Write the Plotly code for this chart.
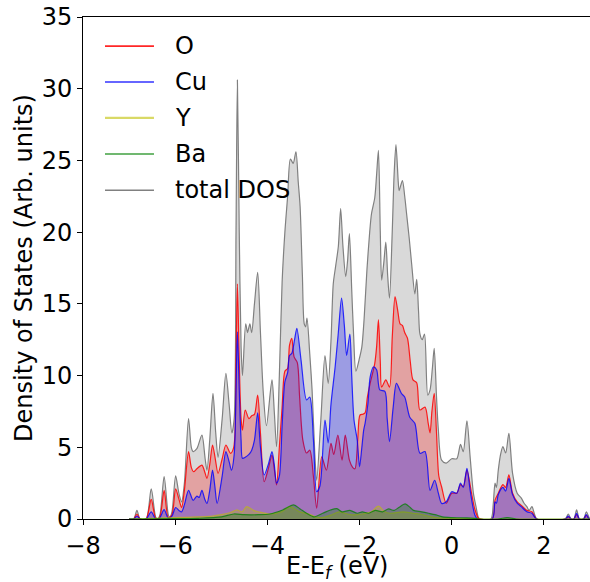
import plotly.graph_objects as go

# ---------------- data: (energy eV, DOS) ----------------
total_pts = [
    (-7.0, 0), (-6.90, 0), (-6.83, 0.6), (-6.76, 0), (-6.63, 0), (-6.52, 2.1), (-6.42, 0.1), (-6.38, 0),
    (-6.33, 0.3), (-6.24, 2.95), (-6.15, 0.3), (-6.12, 0.1), (-6.07, 0.5), (-5.99, 3.0), (-5.92, 1.8),
    (-5.86, 1.2), (-5.80, 2.5), (-5.71, 7.0), (-5.65, 5.0), (-5.61, 4.7), (-5.53, 4.9), (-5.42, 5.85),
    (-5.35, 4.2), (-5.31, 3.4), (-5.25, 5.5), (-5.18, 8.76), (-5.12, 6.0), (-5.07, 4.3), (-4.98, 7.0),
    (-4.90, 10.15), (-4.83, 8.0), (-4.77, 6.0), (-4.72, 7.0), (-4.68, 20.0), (-4.65, 30.6), (-4.61, 20.0),
    (-4.57, 12.0), (-4.54, 10.0), (-4.47, 13.6), (-4.43, 13.0), (-4.38, 13.6), (-4.34, 13.0), (-4.28, 15.0),
    (-4.21, 17.2), (-4.15, 13.0), (-4.09, 8.87), (-4.02, 6.5), (-3.90, 9.7), (-3.85, 7.5), (-3.80, 5.04),
    (-3.74, 10.0), (-3.68, 16.5), (-3.62, 20.0), (-3.56, 22.5), (-3.50, 25.1), (-3.44, 24.8), (-3.38, 25.6),
    (-3.33, 23.5), (-3.29, 21.8), (-3.24, 17.0), (-3.20, 13.6), (-3.17, 13.4), (-3.14, 14.0), (-3.08, 11.5),
    (-3.03, 9.0), (-2.97, 4.5), (-2.93, 2.7), (-2.84, 6.9), (-2.75, 11.4), (-2.68, 9.45), (-2.62, 12.4),
    (-2.57, 16.4), (-2.52, 17.6), (-2.46, 19.0), (-2.41, 21.65), (-2.36, 19.0), (-2.30, 16.9), (-2.26, 18.0),
    (-2.22, 19.9), (-2.17, 16.0), (-2.13, 12.9), (-2.08, 10.3), (-2.01, 11.1), (-1.95, 12.0), (-1.90, 14.0),
    (-1.84, 17.35), (-1.78, 20.0), (-1.74, 21.3), (-1.67, 22.4), (-1.63, 24.0), (-1.59, 25.7), (-1.55, 20.0),
    (-1.52, 16.65), (-1.47, 18.0), (-1.43, 19.3), (-1.39, 17.0), (-1.35, 15.4), (-1.29, 20.1), (-1.25, 24.0),
    (-1.21, 26.1), (-1.16, 23.5), (-1.14, 22.9), (-1.07, 23.6), (-1.02, 22.5), (-0.98, 21.3), (-0.92, 19.5),
    (-0.87, 17.8), (-0.80, 15.7), (-0.76, 16.7), (-0.72, 14.5), (-0.69, 12.9), (-0.64, 12.5), (-0.59, 12.9),
    (-0.52, 8.64), (-0.47, 9.0), (-0.42, 10.5), (-0.38, 11.9), (-0.33, 8.5), (-0.29, 6.2), (-0.22, 4.1),
    (-0.12, 3.9), (0.0, 4.2), (0.11, 4.2), (0.19, 5.2), (0.25, 4.7), (0.33, 6.85), (0.40, 4.3), (0.47, 1.8),
    (0.53, 0.8), (0.58, 0.1), (0.62, 0), (0.85, 0), (0.90, 1.0), (0.94, 2.5), (0.97, 2.2), (1.01, 3.4),
    (1.06, 4.5), (1.11, 5.04), (1.17, 4.6), (1.24, 5.97), (1.32, 3.18), (1.42, 1.8), (1.51, 1.45),
    (1.57, 1.1), (1.63, 0.86), (1.68, 0.6), (1.74, 0.86), (1.80, 0.3), (1.85, 0), (2.46, 0), (2.53, 0.35),
    (2.59, 0), (2.65, 0), (2.71, 0.63), (2.77, 0), (2.86, 0), (2.92, 0.5), (2.98, 0.1), (3.0, 0),
]
O_pts = [
    (-7.0, 0), (-6.90, 0), (-6.83, 0.35), (-6.76, 0), (-6.63, 0), (-6.52, 1.37), (-6.42, 0.05), (-6.34, 0.1),
    (-6.24, 2.0), (-6.15, 0.1), (-6.07, 0.3), (-5.99, 2.1), (-5.92, 1.4), (-5.86, 0.8), (-5.80, 2.0),
    (-5.71, 4.7), (-5.65, 3.6), (-5.60, 3.3), (-5.53, 3.5), (-5.42, 3.76), (-5.36, 3.3), (-5.31, 2.83),
    (-5.25, 3.8), (-5.19, 5.16), (-5.13, 4.2), (-5.07, 3.18), (-4.98, 4.2), (-4.90, 5.16), (-4.80, 4.58),
    (-4.73, 5.0), (-4.68, 11.0), (-4.65, 16.4), (-4.61, 11.0), (-4.57, 7.0), (-4.54, 6.2), (-4.48, 7.6),
    (-4.40, 7.0), (-4.34, 7.2), (-4.28, 7.3), (-4.21, 8.64), (-4.15, 6.0), (-4.07, 2.6), (-3.98, 3.5),
    (-3.90, 4.46), (-3.85, 3.5), (-3.80, 2.37), (-3.74, 5.0), (-3.68, 7.8), (-3.62, 10.3), (-3.56, 10.5),
    (-3.52, 12.1), (-3.47, 12.6), (-3.42, 11.3), (-3.35, 10.9), (-3.30, 8.5), (-3.23, 5.5), (-3.15, 4.6),
    (-3.08, 4.8), (-3.00, 2.95), (-2.93, 0.75), (-2.82, 4.34), (-2.72, 3.4), (-2.62, 5.27), (-2.56, 4.5),
    (-2.47, 5.85), (-2.38, 4.1), (-2.31, 5.85), (-2.22, 4.1), (-2.15, 3.6), (-2.10, 3.5), (-2.04, 5.5),
    (-1.99, 7.25), (-1.93, 7.3), (-1.88, 7.4), (-1.83, 8.5), (-1.77, 9.45), (-1.67, 10.85), (-1.63, 12.0),
    (-1.59, 13.9), (-1.55, 11.0), (-1.52, 9.2), (-1.43, 9.7), (-1.35, 9.2), (-1.29, 12.7), (-1.23, 15.5),
    (-1.17, 14.5), (-1.12, 13.6), (-1.07, 13.5), (-1.02, 13.0), (-0.96, 12.6), (-0.90, 11.0), (-0.84, 9.7),
    (-0.76, 9.5), (-0.69, 7.6), (-0.58, 7.8), (-0.51, 6.67), (-0.47, 6.0), (-0.43, 7.5), (-0.38, 8.76),
    (-0.33, 6.0), (-0.28, 3.0), (-0.22, 2.25), (-0.12, 1.09), (0.0, 1.79), (0.11, 1.8), (0.19, 2.4),
    (0.25, 2.25), (0.33, 3.41), (0.43, 1.8), (0.50, 0.7), (0.58, 0.05), (0.62, 0), (0.88, 0), (0.94, 1.32),
    (1.01, 1.8), (1.11, 2.4), (1.17, 2.2), (1.24, 3.07), (1.32, 1.8), (1.42, 1.2), (1.51, 0.95), (1.63, 0.6),
    (1.74, 0.5), (1.84, 0), (2.46, 0), (2.53, 0.15), (2.59, 0), (2.65, 0), (2.71, 0.3), (2.77, 0), (2.86, 0),
    (2.92, 0.25), (2.98, 0), (3.0, 0),
]
Cu_pts = [
    (-7.0, 0), (-6.90, 0), (-6.83, 0.2), (-6.76, 0), (-6.63, 0), (-6.52, 0.5), (-6.42, 0), (-6.34, 0.05),
    (-6.24, 0.65), (-6.15, 0.05), (-6.07, 0.2), (-5.99, 0.8), (-5.92, 0.6), (-5.86, 0.5), (-5.80, 1.0),
    (-5.71, 2.0), (-5.61, 1.3), (-5.53, 1.6), (-5.48, 1.5), (-5.42, 2.0), (-5.36, 1.4), (-5.31, 1.09),
    (-5.25, 2.0), (-5.19, 3.41), (-5.14, 2.3), (-5.09, 1.09), (-4.98, 3.0), (-4.90, 4.7), (-4.83, 4.0),
    (-4.78, 3.4), (-4.72, 4.5), (-4.68, 9.0), (-4.65, 13.05), (-4.61, 9.0), (-4.57, 5.5), (-4.54, 4.23),
    (-4.48, 4.3), (-4.40, 4.5), (-4.34, 4.8), (-4.28, 5.5), (-4.21, 7.4), (-4.15, 5.0), (-4.07, 3.07),
    (-3.98, 3.8), (-3.90, 4.7), (-3.85, 3.8), (-3.80, 2.5), (-3.74, 3.0), (-3.68, 6.5), (-3.62, 9.57),
    (-3.56, 10.2), (-3.52, 11.4), (-3.47, 11.55), (-3.41, 12.5), (-3.36, 13.3), (-3.27, 11.1), (-3.15, 8.3),
    (-3.08, 8.5), (-3.00, 5.5), (-2.93, 1.9), (-2.86, 2.3), (-2.75, 6.9), (-2.68, 5.3), (-2.62, 8.0),
    (-2.53, 10.6), (-2.46, 13.0), (-2.39, 15.4), (-2.33, 13.5), (-2.28, 11.4), (-2.21, 12.9), (-2.17, 10.0),
    (-2.12, 6.9), (-2.05, 5.5), (-2.00, 3.64), (-1.95, 5.0), (-1.91, 6.2), (-1.88, 6.67), (-1.82, 8.0),
    (-1.77, 9.9), (-1.70, 10.6), (-1.63, 10.4), (-1.56, 9.0), (-1.45, 8.9), (-1.40, 7.0), (-1.35, 5.4),
    (-1.27, 7.8), (-1.20, 9.45), (-1.09, 8.75), (-1.02, 8.5), (-0.91, 7.1), (-0.80, 6.67), (-0.69, 4.58),
    (-0.58, 4.7), (-0.47, 2.0), (-0.37, 2.7), (-0.29, 1.8), (-0.22, 1.09), (-0.12, 1.2), (0.0, 1.9),
    (0.11, 1.8), (0.19, 2.5), (0.25, 2.2), (0.33, 3.53), (0.40, 2.0), (0.50, 0.3), (0.56, 0), (0.88, 0),
    (0.94, 1.2), (0.97, 1.1), (1.01, 1.7), (1.11, 2.2), (1.17, 1.95), (1.24, 2.83), (1.32, 1.7), (1.42, 1.1),
    (1.51, 0.86), (1.63, 0.5), (1.74, 0.4), (1.84, 0), (2.46, 0), (2.53, 0.2), (2.59, 0), (2.65, 0),
    (2.71, 0.4), (2.77, 0), (2.86, 0), (2.92, 0.3), (2.98, 0), (3.0, 0),
]
Y_pts = [
    (-7.0, 0), (-6.5, 0.05), (-6.0, 0.1), (-5.8, 0.12), (-5.5, 0.15), (-5.2, 0.2), (-5.0, 0.3), (-4.8, 0.45),
    (-4.66, 0.63), (-4.55, 0.5), (-4.45, 0.86), (-4.3, 0.6), (-4.19, 0.5), (-3.95, 0.35), (-3.7, 0.5),
    (-3.51, 0.86), (-3.3, 0.5), (-3.10, 0.35), (-2.95, 0.15), (-2.81, 0.1), (-2.6, 0.3), (-2.44, 0.5),
    (-2.2, 0.3), (-1.94, 0.35), (-1.75, 0.5), (-1.59, 0.9), (-1.45, 0.5), (-1.34, 0.4), (-1.05, 0.5),
    (-0.85, 0.4), (-0.69, 0.35), (-0.5, 0.2), (-0.33, 0.1), (0.0, 0.05), (0.5, 0.02), (0.6, 0), (3.0, 0),
]
Ba_pts = [
    (-7.0, 0), (-6.0, 0.02), (-5.5, 0.05), (-5.0, 0.15), (-4.73, 0.35), (-4.5, 0.3), (-4.2, 0.3),
    (-3.95, 0.35), (-3.67, 0.63), (-3.43, 0.98), (-3.29, 0.7), (-3.15, 0.4), (-2.99, 0.15), (-2.8, 0.4),
    (-2.63, 0.63), (-2.49, 0.72), (-2.38, 0.5), (-2.21, 0.6), (-2.05, 0.4), (-1.94, 0.5), (-1.80, 0.4),
    (-1.66, 0.6), (-1.5, 0.5), (-1.37, 0.7), (-1.25, 0.6), (-1.15, 0.8), (-1.01, 1.05), (-0.9, 0.8),
    (-0.83, 0.6), (-0.65, 0.5), (-0.5, 0.4), (-0.36, 0.3), (-0.2, 0.15), (0.0, 0.1), (0.3, 0.08),
    (0.5, 0.05), (0.6, 0), (1.0, 0), (1.2, 0.1), (1.4, 0), (3.0, 0),
]

legend_labels = ["O", "Cu", "Y", "Ba", "total DOS"]
x_ticks = [-8, -6, -4, -2, 0, 2]
y_ticks = [0, 5, 10, 15, 20, 25, 30, 35]
x_title = "E-E<sub><i>f</i></sub> (eV)"
y_title = "Density of States (Arb. units)"

# ---------------- styles ----------------
FONT = "DejaVu Sans"
FS = 24
styles = {
    "total DOS": dict(line="rgba(128,128,128,1)", fill="rgba(128,128,128,0.3)", w=1.2),
    "O": dict(line="rgba(255,0,0,0.85)", fill="rgba(255,0,0,0.25)", w=1.2),
    "Cu": dict(line="rgba(0,0,255,0.8)", fill="rgba(0,0,255,0.28)", w=1.2),
    "Y": dict(line="rgba(191,191,0,0.6)", fill="rgba(191,191,0,0.3)", w=1.2),
    "Ba": dict(line="rgba(0,128,0,0.75)", fill="rgba(0,128,0,0.3)", w=1.2),
}
series = {"total DOS": total_pts, "O": O_pts, "Cu": Cu_pts, "Y": Y_pts, "Ba": Ba_pts}

fig = go.Figure()
for name in ["total DOS", "O", "Cu", "Y", "Ba"]:
    ex = [p[0] for p in series[name]]
    dv = [p[1] for p in series[name]]
    fig.add_trace(go.Scatter(
        x=ex, y=dv, mode="lines", fill="tozeroy", name=name,
        fillcolor=styles[name]["fill"],
        line=dict(color=styles[name]["line"], width=styles[name]["w"], shape="spline", smoothing=0.8),
        showlegend=False, hoverinfo="skip"))

# matplotlib-style legend (no frame): line sample + label, drawn in axes-fraction coords
shapes, annotations = [], []
row_y = [0.942, 0.8705, 0.799, 0.727, 0.655]
for name, yy in zip(legend_labels, row_y):
    shapes.append(dict(type="line", xref="paper", yref="paper", x0=0.0434, x1=0.140, y0=yy, y1=yy,
                       line=dict(color=styles[name]["line"], width=1.6 if name != "Y" else 2.4)))
    annotations.append(dict(text=name, xref="paper", yref="paper", x=0.1775, y=yy,
                            xanchor="left", yanchor="middle", showarrow=False,
                            font=dict(family=FONT, size=FS, color="black")))

# x-axis title placed as in the reference
annotations.append(dict(text=x_title, xref="paper", yref="paper", x=0.5, y=-0.097,
                        xanchor="center", yanchor="middle", showarrow=False, borderpad=0,
                        font=dict(family=FONT, size=FS, color="black")))

fig.update_layout(
    width=590, height=582,
    margin=dict(l=83, r=0, t=17, b=63, autoexpand=False),
    paper_bgcolor="white", plot_bgcolor="white",
    font=dict(family=FONT, size=FS, color="black"),
    showlegend=False,
    shapes=shapes, annotations=annotations,
)
fig.update_xaxes(
    range=[-8, 3], tickvals=x_ticks,
    ticktext=["\u2212" + str(-t) if t < 0 else str(t) for t in x_ticks],
    showline=True, linecolor="black", linewidth=1, mirror=True,
    ticks="outside", ticklen=5, tickcolor="black", showgrid=False, zeroline=False,
    tickfont=dict(size=FS), automargin=False,
)
fig.update_yaxes(
    range=[0, 35], tickvals=y_ticks,
    showline=True, linecolor="black", linewidth=1, mirror=True,
    ticks="outside", ticklen=5, tickcolor="black", showgrid=False, zeroline=False,
    tickfont=dict(size=FS), automargin=False,
    title=dict(text=y_title, font=dict(size=FS), standoff=2),
)

fig.write_html("out.html")
